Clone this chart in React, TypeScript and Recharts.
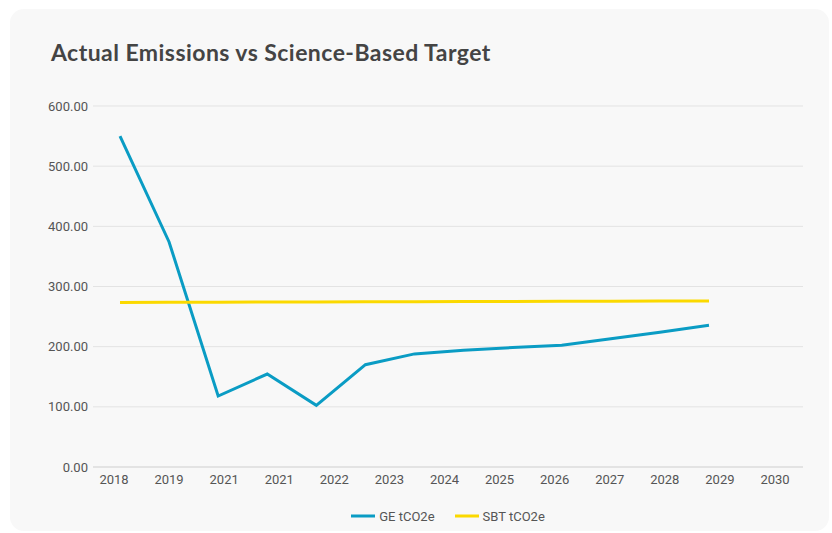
import React from "react";
import { LineChart, Line, XAxis, YAxis, CartesianGrid, Legend } from "recharts";

const years = ["2018", "2019", "2021", "2021", "2022", "2023", "2024", "2025", "2026", "2027", "2028", "2029", "2030"];
const geValues = [550, 374, 118, 154.5, 102.5, 170, 188, 194, 198.5, 202.5, 213, 224, 235.5];
const sbtValues = [273.6, 273.8, 274.0, 274.2, 274.4, 274.6, 274.8, 275.0, 275.2, 275.4, 275.6, 275.8, 276.0];
const yTicks = [0, 100, 200, 300, 400, 500, 600];

const GE_COLOR = "#0a9cc4";
const SBT_COLOR = "#fbd900";

const data = years.map((year, i) => ({
  year,
  i,
  ge: i < geValues.length ? geValues[i] : null,
  sbt: i < sbtValues.length ? sbtValues[i] : null,
}));

const FONT = "Roboto, 'Noto Sans', sans-serif";

const renderLegend = (props: any) => {
  const { payload } = props;
  return (
    <div
      style={{
        display: "flex",
        justifyContent: "center",
        alignItems: "center",
        height: 20,
        fontFamily: FONT,
        fontSize: 13,
        color: "#555",
      }}
    >
      {payload.map((entry: any, idx: number) => (
        <div key={idx} style={{ display: "flex", alignItems: "center", marginRight: idx === payload.length - 1 ? 0 : 20 }}>
          <svg width={24} height={6} style={{ marginRight: 4 }}>
            <line x1={0} y1={3} x2={24} y2={3} stroke={entry.color} strokeWidth={3} />
          </svg>
          <span>{entry.value}</span>
        </div>
      ))}
    </div>
  );
};

export default function App() {
  return (
    <div style={{ position: "absolute", left: 0, top: 0, width: 832, height: 533, background: "#ffffff" }}>
      <div
        style={{
          position: "absolute",
          left: 10,
          top: 9,
          width: 819,
          height: 522,
          borderRadius: 14,
          background: "#f8f8f8",
        }}
      />
      <div
        style={{
          position: "absolute",
          left: 51,
          top: 41,
          fontFamily: "Lato, sans-serif",
          fontWeight: 700,
          fontSize: 23,
          letterSpacing: 0.45,
          lineHeight: "22px",
          color: "#444444",
          whiteSpace: "nowrap",
        }}
      >
        Actual Emissions vs Science-Based Target
      </div>
      <div style={{ position: "absolute", left: 0, top: 0 }}>
        <LineChart width={832} height={533} data={data} margin={{ top: 106, right: 29, left: 0, bottom: 7 }}>
          <CartesianGrid vertical={false} stroke="#e3e3e3" strokeWidth={1} xAxisId="cat" />
          <XAxis
            xAxisId="cat"
            dataKey="year"
            type="category"
            allowDuplicatedCategory={true}
            interval={0}
            padding={{ left: 21, right: 28 }}
            height={39}
            tickLine={false}
            tickSize={6}
            tickMargin={2}
            axisLine={{ stroke: "#d8d8d8" }}
            tick={{ fill: "#555555", fontSize: 13, fontFamily: FONT }}
          />
          <XAxis
            xAxisId="idx"
            dataKey="i"
            type="number"
            domain={[0, 12]}
            padding={{ left: 27, right: 94 }}
            hide
          />
          <YAxis
            width={93}
            domain={[0, 600]}
            ticks={yTicks}
            tickFormatter={(v: number) => v.toFixed(2)}
            axisLine={false}
            tickLine={false}
            tickSize={3}
            tickMargin={2}
            tick={{ fill: "#555555", fontSize: 13, fontFamily: FONT }}
          />
          <Legend
            verticalAlign="bottom"
            content={renderLegend}
            wrapperStyle={{ left: 93, width: 710 }}
          />
          <Line
            xAxisId="idx"
            type="linear"
            dataKey="ge"
            name="GE tCO2e"
            stroke={GE_COLOR}
            strokeWidth={3}
            dot={false}
            activeDot={false}
            isAnimationActive={false}
          />
          <Line
            xAxisId="idx"
            type="linear"
            dataKey="sbt"
            name="SBT tCO2e"
            stroke={SBT_COLOR}
            strokeWidth={3}
            dot={false}
            activeDot={false}
            isAnimationActive={false}
          />
        </LineChart>
      </div>
    </div>
  );
}
